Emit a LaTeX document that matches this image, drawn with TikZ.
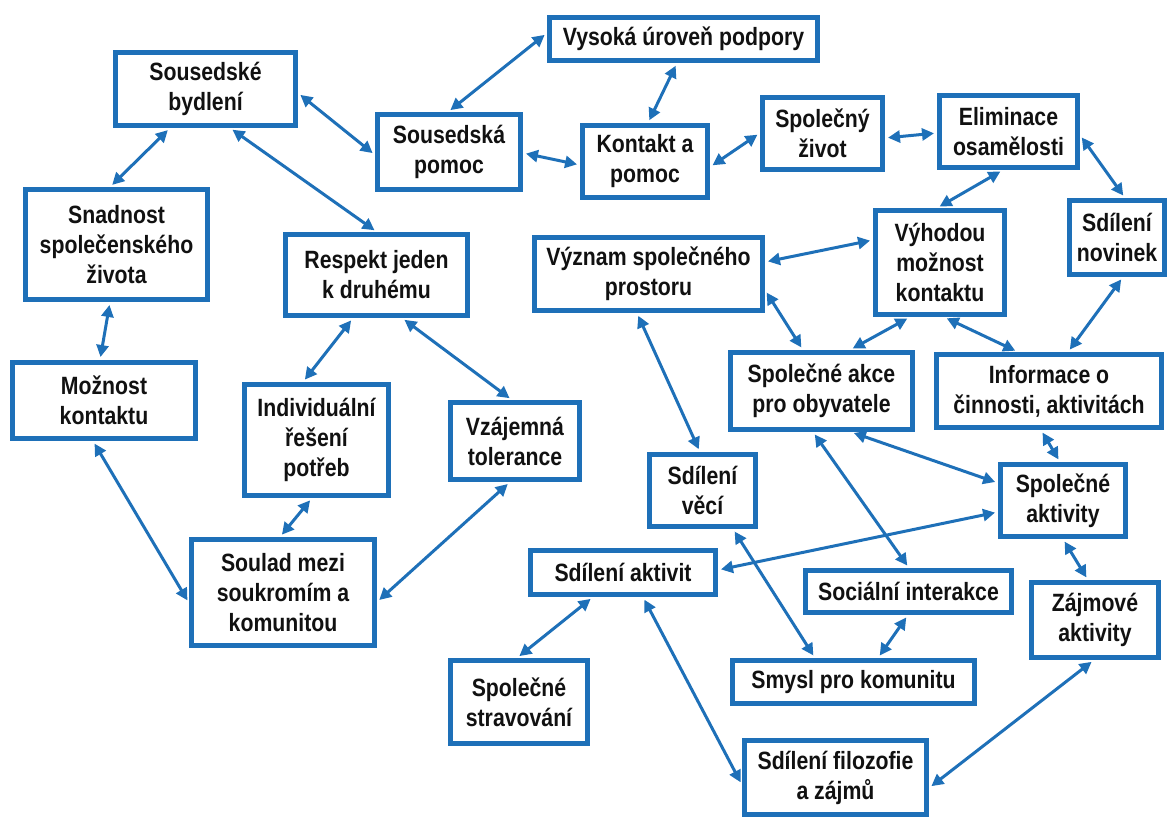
\documentclass[tikz,border=0pt]{standalone}
\usepackage{fontspec}
\setmainfont{Liberation Sans}[FakeStretch=0.85]
\usetikzlibrary{arrows.meta}
\definecolor{boxblue}{RGB}{30,112,184}
\definecolor{ink}{RGB}{17,17,17}
\tikzset{
  box/.style={draw=boxblue, line width=5pt, fill=white, inner sep=0pt,
    align=center, text=ink, font=\fontsize{25}{30}\selectfont\bfseries},
  link/.style={draw=boxblue, line width=3pt,
    {Triangle[length=12pt,width=12pt]}-{Triangle[length=12pt,width=12pt]},
    shorten <=3pt, shorten >=3pt},
}
\begin{document}
\begin{tikzpicture}[x=1pt,y=-1pt]
\useasboundingbox (0,0) rectangle (1171,821);

% concept boxes
\node[box, minimum width=180pt, minimum height=73pt]  (bydleni)   at (205.5,89)   {Sousedské\\bydlení};
\node[box, minimum width=182pt, minimum height=110pt] (snadnost)  at (116.5,244.5) {Snadnost\\společenského\\života};
\node[box, minimum width=143pt, minimum height=75pt]  (pomoc)     at (449,152)    {Sousedská\\pomoc};
\node[box, minimum width=268pt, minimum height=43pt]  (vysoka)    at (683.5,39)   {Vysoká úroveň podpory};
\node[box, minimum width=125pt, minimum height=72pt]  (kontakt)   at (645,161.5)  {Kontakt a\\pomoc};
\node[box, minimum width=120pt, minimum height=72pt]  (zivot)     at (822.5,133.5) {Společný\\život};
\node[box, minimum width=138pt, minimum height=72pt]  (eliminace) at (1008.5,131.5) {Eliminace\\osamělosti};
\node[box, minimum width=129pt, minimum height=104pt] (vyhodou)   at (940,262.5)  {Výhodou\\možnost\\kontaktu};
\node[box, minimum width=95pt,  minimum height=74pt]  (novinek)   at (1117,237.5) {Sdílení\\novinek};
\node[box, minimum width=228pt, minimum height=73pt]  (vyznam)    at (648.5,274)  {Význam společného\\prostoru};
\node[box, minimum width=182pt, minimum height=81pt]  (respekt)   at (376.5,275)  {Respekt jeden\\k druhému};
\node[box, minimum width=183pt, minimum height=76pt]  (moznost)   at (104,400.5)  {Možnost\\kontaktu};
\node[box, minimum width=144pt, minimum height=111pt] (individ)   at (316.5,440)  {Individuální\\řešení\\potřeb};
\node[box, minimum width=129pt, minimum height=77pt]  (vzajemna)  at (515,441)    {Vzájemná\\tolerance};
\node[box, minimum width=183pt, minimum height=106pt] (soulad)    at (283,592.5)  {Soulad mezi\\soukromím a\\komunitou};
\node[box, minimum width=182pt, minimum height=77pt]  (akce)      at (821.5,391)  {Společné akce\\pro obyvatele};
\node[box, minimum width=225pt, minimum height=73pt]  (informace) at (1049,391)   {Informace o\\činnosti, aktivitách};
\node[box, minimum width=106pt, minimum height=72pt]  (veci)      at (702.5,490.5) {Sdílení\\věcí};
\node[box, minimum width=125pt, minimum height=72pt]  (aktivity)  at (1063,500.5) {Společné\\aktivity};
\node[box, minimum width=185pt, minimum height=44pt]  (sdakt)     at (623,572.5)  {Sdílení aktivit};
\node[box, minimum width=206pt, minimum height=42pt]  (interakce) at (908.5,591.5) {Sociální interakce};
\node[box, minimum width=127pt, minimum height=75pt]  (zajmove)   at (1095,620)   {Zájmové\\aktivity};
\node[box, minimum width=242pt, minimum height=43pt]  (smysl)     at (853.5,682)  {Smysl pro komunitu};
\node[box, minimum width=137pt, minimum height=83pt]  (strav)     at (519,702)    {Společné\\stravování};
\node[box, minimum width=182pt, minimum height=74pt]  (filozofie) at (835.5,777.5) {Sdílení filozofie\\a zájmů};

% two-way links
\draw[link] ([xshift=-35.5pt]bydleni.south) -- ([xshift=-6.5pt]snadnost.north);
\draw[link] ([yshift=-4pt]bydleni.east) -- ([yshift=-3pt]pomoc.west);
\draw[link] ([xshift=24.5pt]bydleni.south) -- ([xshift=0.5pt]respekt.north);
\draw[link] ([xshift=-1pt]pomoc.north) -- ([yshift=6pt]vysoka.west);
\draw[link] ([xshift=-6.5pt]vysoka.south) -- ([xshift=3pt]kontakt.north);
\draw[link] ([yshift=-1pt]pomoc.east) -- ([yshift=-3.5pt]kontakt.west);
\draw[link] ([yshift=-5.5pt]kontakt.east) -- ([yshift=0.5pt]zivot.west);
\draw[link] ([yshift=-4.5pt]zivot.east) -- ([yshift=-1.5pt]eliminace.west);
\draw[link] ([xshift=-5.5pt]eliminace.south) -- ([xshift=-3pt]vyhodou.north);
\draw[link] ([yshift=-3.5pt]eliminace.east) -- ([xshift=8pt]novinek.north);
\draw[link] ([yshift=22.5pt]vyhodou.west) -- ([yshift=12pt]vyznam.east);
\draw[link] ([yshift=-16pt]vyznam.east) -- ([xshift=-18.5pt]akce.north);
\draw[link] ([xshift=-30pt]vyhodou.south) -- ([xshift=28.5pt]akce.north);
\draw[link] ([xshift=4pt]vyhodou.south) -- ([xshift=-31pt]informace.north);
\draw[link] ([xshift=6pt]novinek.south) -- ([xshift=19pt]informace.north);
\draw[link] ([xshift=-11.5pt]vyznam.south) -- ([xshift=-2.5pt]veci.north);
\draw[link] ([xshift=-23.5pt]respekt.south) -- ([xshift=-13.5pt]individ.north);
\draw[link] ([xshift=25.5pt]respekt.south) -- ([xshift=-3pt]vzajemna.north);
\draw[link] ([xshift=-6.5pt]snadnost.south) -- ([xshift=-4pt]moznost.north);
\draw[link] ([xshift=-11pt]moznost.south) -- ([yshift=-10.5pt]soulad.west);
\draw[link] ([xshift=-4.5pt]individ.south) -- ([xshift=-3pt]soulad.north);
\draw[link] ([xshift=-5pt]vzajemna.south) -- ([yshift=-9.5pt]soulad.east);
\draw[link] ([xshift=29.5pt]akce.south) -- ([yshift=17.5pt]aktivity.west);
\draw[link] ([xshift=-8.5pt]akce.south) -- ([xshift=0.5pt]interakce.north);
\draw[link] ([xshift=-8pt]informace.south) -- ([xshift=-3pt]aktivity.north);
\draw[link] ([yshift=-11.5pt]aktivity.west) -- ([yshift=2.5pt]sdakt.east);
\draw[link] ([xshift=30.5pt]veci.south) -- ([xshift=-38.5pt]smysl.north);
\draw[link] (aktivity.south) -- ([xshift=-7pt]zajmove.north);
\draw[link] ([xshift=-0.5pt]interakce.south) -- ([xshift=24.5pt]smysl.north);
\draw[link] ([xshift=-1pt]zajmove.south) -- ([yshift=-10.5pt]filozofie.east);
\draw[link] ([xshift=-30pt]sdakt.south) -- ([xshift=-2pt]strav.north);
\draw[link] ([xshift=20pt]sdakt.south) -- ([yshift=-7.5pt]filozofie.west);
\end{tikzpicture}
\end{document}
